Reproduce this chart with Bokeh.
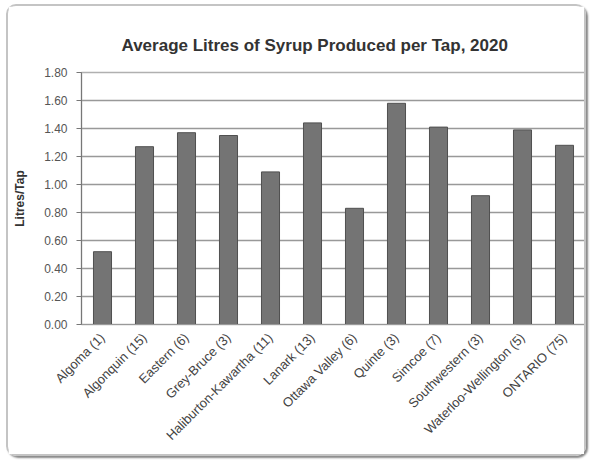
import math
from bokeh.plotting import figure
from bokeh.models import ColumnDataSource, FixedTicker, Range1d, NumeralTickFormatter
from bokeh.embed import file_html
from bokeh.resources import INLINE

regions = ["Algoma (1)", "Algonquin (15)", "Eastern (6)", "Grey-Bruce (3)",
           "Haliburton-Kawartha (11)", "Lanark (13)", "Ottawa Valley (6)",
           "Quinte (3)", "Simcoe (7)", "Southwestern (3)",
           "Waterloo-Wellington (5)", "ONTARIO (75)"]
litres_per_tap = [0.52, 1.27, 1.37, 1.35, 1.09, 1.44, 0.83, 1.58, 1.41, 0.92, 1.39, 1.28]
y_ticks = [0.0, 0.2, 0.4, 0.6, 0.8, 1.0, 1.2, 1.4, 1.6, 1.8]

source = ColumnDataSource(dict(region=regions, value=litres_per_tap))

p = figure(x_range=regions, y_range=Range1d(0, 1.8), width=580, height=452,
           output_backend="svg", toolbar_location=None,
           title="Average Litres of Syrup Produced per Tap, 2020",
           min_border_left=73, min_border_right=3, min_border_top=66,
           min_border_bottom=134)

p.styles = {"border": "2px solid #c4c4c4", "border-radius": "10px",
            "margin-left": "6px", "margin-top": "4px",
            "box-shadow": "2px 2px 2px #888"}

p.vbar(x="region", top="value", width=0.43, source=source,
       fill_color="#747474", line_color="#505050", line_width=1)

p.title.align = "left"
p.title.offset = 40
p.title.standoff = 35
p.title.text_font = "Liberation Sans"
p.title.text_font_size = "17px"
p.title.text_font_style = "bold"
p.title.text_color = "#333333"

p.yaxis.ticker = FixedTicker(ticks=y_ticks)
p.yaxis.formatter = NumeralTickFormatter(format="0.00")
p.yaxis.axis_label = "Litres/Tap"
p.yaxis.axis_label_text_font = "Liberation Sans"
p.yaxis.axis_label_text_font_style = "bold"
p.yaxis.axis_label_text_font_size = "12px"
p.yaxis.axis_label_text_color = "#333333"
p.yaxis.axis_label_standoff = 14
p.yaxis.major_label_text_font = "Liberation Sans"
p.yaxis.major_label_text_font_size = "12px"
p.yaxis.major_label_text_color = "#555555"
p.yaxis.major_label_standoff = 9
p.yaxis.minor_tick_line_color = None
p.yaxis.major_tick_out = 5
p.yaxis.major_tick_in = 0
p.yaxis.axis_line_color = "#777777"
p.yaxis.major_tick_line_color = "#777777"

p.xaxis.major_label_orientation = math.pi / 4
p.xaxis.major_label_text_font = "Liberation Sans"
p.xaxis.major_label_text_font_size = "13px"
p.xaxis.major_label_text_color = "#444444"
p.xaxis.major_tick_line_color = None
p.xaxis.axis_line_color = "#999999"

p.xgrid.grid_line_color = None
p.ygrid.grid_line_color = "#999999"
p.ygrid.grid_line_width = 1.5
p.outline_line_color = "#b0b0b0"
p.outline_line_width = 1.5
p.background_fill_color = "white"
p.border_fill_color = "white"

open("out.html", "w").write(file_html(p, INLINE))
